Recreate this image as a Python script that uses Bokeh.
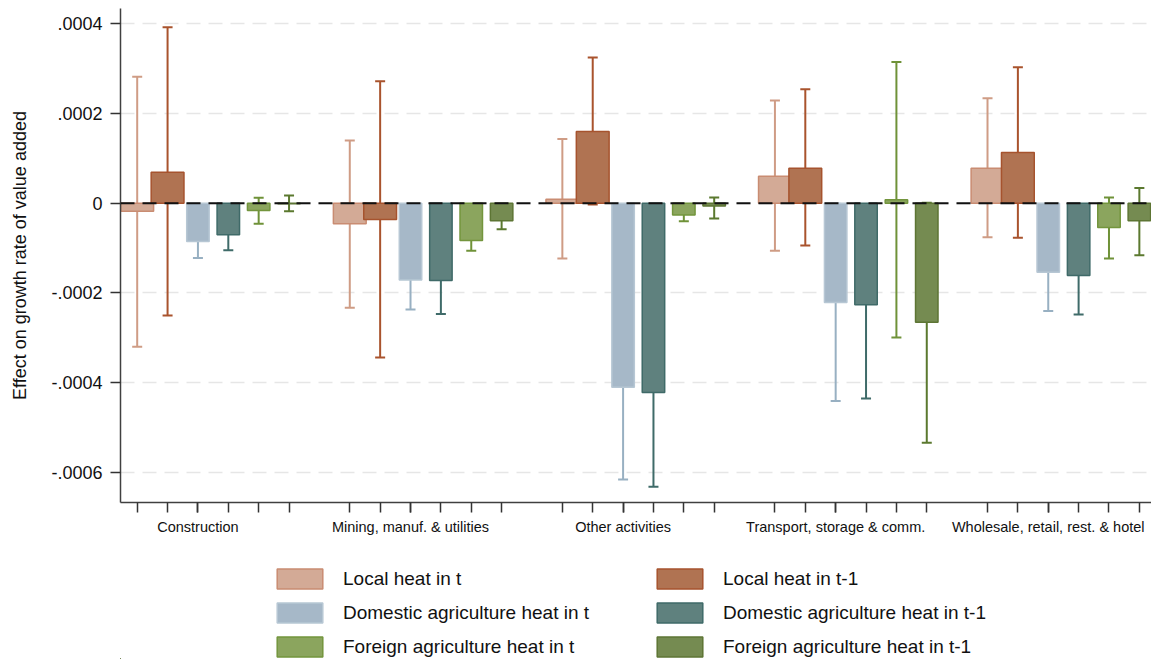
from bokeh.plotting import figure
from bokeh.layouts import column
from bokeh.models import (ColumnDataSource, Range1d, FixedTicker, CustomJSTickFormatter,
                          Whisker, TeeHead, Span, Legend, LegendItem)
from bokeh.embed import file_html
from bokeh.resources import INLINE

# ---------------- data ----------------
sectors = ["Construction", "Mining, manuf. & utilities", "Other activities",
           "Transport, storage & comm.", "Wholesale, retail, rest. & hotel"]
series_names = ["Local heat in t", "Local heat in t-1",
                "Domestic agriculture heat in t", "Domestic agriculture heat in t-1",
                "Foreign agriculture heat in t", "Foreign agriculture heat in t-1"]

local_t = [-0.18e-4, -0.46e-4, 0.09e-4, 0.60e-4, 0.78e-4]
local_t_lo = [-3.20e-4, -2.33e-4, -1.23e-4, -1.06e-4, -0.76e-4]
local_t_hi = [2.82e-4, 1.40e-4, 1.43e-4, 2.29e-4, 2.34e-4]

local_t1 = [0.69e-4, -0.36e-4, 1.60e-4, 0.78e-4, 1.13e-4]
local_t1_lo = [-2.50e-4, -3.44e-4, -0.03e-4, -0.94e-4, -0.77e-4]
local_t1_hi = [3.92e-4, 2.72e-4, 3.25e-4, 2.54e-4, 3.03e-4]

dom_t = [-0.855e-4, -1.71e-4, -4.10e-4, -2.21e-4, -1.54e-4]
dom_t_lo = [-1.22e-4, -2.37e-4, -6.16e-4, -4.41e-4, -2.40e-4]
dom_t_hi = [-0.51e-4, -1.05e-4, -2.05e-4, -0.01e-4, -0.70e-4]

dom_t1 = [-0.70e-4, -1.72e-4, -4.22e-4, -2.26e-4, -1.61e-4]
dom_t1_lo = [-1.05e-4, -2.47e-4, -6.32e-4, -4.35e-4, -2.48e-4]
dom_t1_hi = [-0.38e-4, -0.98e-4, -2.15e-4, -0.19e-4, -0.77e-4]

for_t = [-0.16e-4, -0.83e-4, -0.26e-4, 0.08e-4, -0.54e-4]
for_t_lo = [-0.46e-4, -1.06e-4, -0.40e-4, -2.99e-4, -1.23e-4]
for_t_hi = [0.12e-4, -0.61e-4, -0.15e-4, 3.15e-4, 0.13e-4]

for_t1 = [-0.01e-4, -0.39e-4, -0.06e-4, -2.65e-4, -0.39e-4]
for_t1_lo = [-0.18e-4, -0.58e-4, -0.34e-4, -5.34e-4, -1.16e-4]
for_t1_hi = [0.17e-4, -0.22e-4, 0.13e-4, 0.01e-4, 0.34e-4]

y_ticks = [-0.0006, -0.0004, -0.0002, 0.0, 0.0002, 0.0004]

# ---------------- style ----------------
values = [local_t, local_t1, dom_t, dom_t1, for_t, for_t1]
lows = [local_t_lo, local_t1_lo, dom_t_lo, dom_t1_lo, for_t_lo, for_t1_lo]
highs = [local_t_hi, local_t1_hi, dom_t_hi, dom_t1_hi, for_t_hi, for_t1_hi]
fill_colors = ["#d3aa96", "#b07352", "#a6b8c8", "#5f817e", "#8ba55e", "#758b51"]
line_colors = ["#c98c72", "#a6532e", "#b7c7d4", "#3f6a68", "#73953d", "#5d7534"]
whisker_colors = ["#cf9c85", "#a9532d", "#98b0c2", "#3f6b69", "#6f9238", "#5b792f"]
bar_widths = [1.08, 1.08, 0.74, 0.74, 0.74, 0.74]
FONT = "Liberation Sans"
step = len(series_names) + 1

p = figure(width=1151, height=542, output_backend="svg", toolbar_location=None,
           x_range=Range1d(-0.55, 33.4), y_range=Range1d(-0.000667, 0.000434),
           min_border_left=120, min_border_right=0, min_border_top=8,
           min_border_bottom=40)
p.outline_line_color = None
p.background_fill_color = "white"
p.xgrid.visible = False

# y axis
ya = p.yaxis[0]
ya.ticker = FixedTicker(ticks=y_ticks)
p.ygrid.ticker = FixedTicker(ticks=y_ticks)
ya.formatter = CustomJSTickFormatter(
    code="if (Math.abs(tick) < 1e-12) { return '0'; } return tick.toFixed(4).replace('0.', '.');")
ya.major_label_text_font = FONT
ya.major_label_text_font_size = "18px"
ya.major_label_text_color = "#111111"
ya.major_tick_out = 10
ya.major_tick_in = 0
ya.major_tick_line_width = 1.5
ya.major_tick_line_color = "#333333"
ya.minor_tick_line_color = None
ya.axis_line_color = "#404040"
ya.axis_line_width = 1.5
ya.major_label_standoff = 8
ya.axis_label = "Effect on growth rate of value added"
ya.axis_label_text_font = FONT
ya.axis_label_text_font_style = "normal"
ya.axis_label_text_font_size = "18px"
ya.axis_label_text_color = "#111111"
ya.axis_label_standoff = 18

p.ygrid.grid_line_color = "#e6e6e6"
p.ygrid.grid_line_width = 1.5
p.ygrid.grid_line_dash = "14 8"

# x axis
bar_positions = [g * step + s for g in range(len(sectors)) for s in range(len(series_names))]
label_positions = [g * step + 2 for g in range(len(sectors))]
xa = p.xaxis[0]
xa.ticker = FixedTicker(ticks=label_positions, minor_ticks=bar_positions)
xa.major_label_overrides = {pos: name for pos, name in zip(label_positions, sectors)}
xa.major_label_text_font = FONT
xa.major_label_text_font_size = "14.5px"
xa.major_label_text_color = "#111111"
xa.major_tick_out = 10
xa.major_tick_in = 0
xa.major_tick_line_color = "#333333"
xa.major_tick_line_width = 1.5
xa.minor_tick_out = 10
xa.minor_tick_in = 0
xa.minor_tick_line_color = "#333333"
xa.minor_tick_line_width = 1.5
xa.axis_line_color = "#404040"
xa.axis_line_width = 1.5
xa.major_label_standoff = 6

# bars
renderers = []
sources = []
for s in range(len(series_names)):
    xs = [g * step + s for g in range(len(sectors))]
    src = ColumnDataSource(dict(x=xs, top=values[s], lo=lows[s], hi=highs[s]))
    sources.append(src)
    r = p.vbar(x="x", top="top", bottom=0, width=bar_widths[s], source=src,
               fill_color=fill_colors[s], line_color=line_colors[s], line_width=1.5)
    renderers.append(r)

# zero line
p.add_layout(Span(location=0, dimension="width", line_color="#111111",
                  line_width=2, line_dash="14 8"))

# whiskers
for s in range(len(series_names)):
    wc = whisker_colors[s]
    w = Whisker(source=sources[s], base="x", upper="hi", lower="lo", dimension="height",
                line_color=wc, line_width=2,
                upper_head=TeeHead(size=10, line_color=wc, line_width=2),
                lower_head=TeeHead(size=10, line_color=wc, line_width=2))
    p.add_layout(w)

# ---------------- legend (separate strip below the chart) ----------------
# The strip's ranges are far away from the data, so its proxy bars stay hidden
# while the legend draws their swatches.
p2 = figure(width=1151, height=117, output_backend="svg", toolbar_location=None,
            x_range=Range1d(1000, 1001), y_range=Range1d(1000, 1001), min_border=0,
            x_axis_type=None, y_axis_type=None)
p2.outline_line_color = None
p2.grid.visible = False

legend_renderers = []
for s in range(len(series_names)):
    lr = p2.vbar(x="x", top="top", bottom=0, width=bar_widths[s], source=sources[s],
                 fill_color=fill_colors[s], line_color=line_colors[s], line_width=1.5)
    legend_renderers.append(lr)

# column-major: left column "t", right column "t-1"
order = [0, 2, 4, 1, 3, 5]
items = [LegendItem(label=series_names[i], renderers=[legend_renderers[i]]) for i in order]
legend = Legend(items=items, orientation="vertical", ncols=2, location=(151, 0),
                glyph_width=57, glyph_height=25, label_standoff=15, label_width=299,
                spacing=9, padding=0, margin=0, border_line_color=None,
                background_fill_alpha=0, label_text_font=FONT,
                label_text_font_size="19px", label_text_color="#111111")
p2.add_layout(legend, "center")

layout = column(p, p2, spacing=0)
open("out.html", "w").write(file_html(layout, INLINE))
